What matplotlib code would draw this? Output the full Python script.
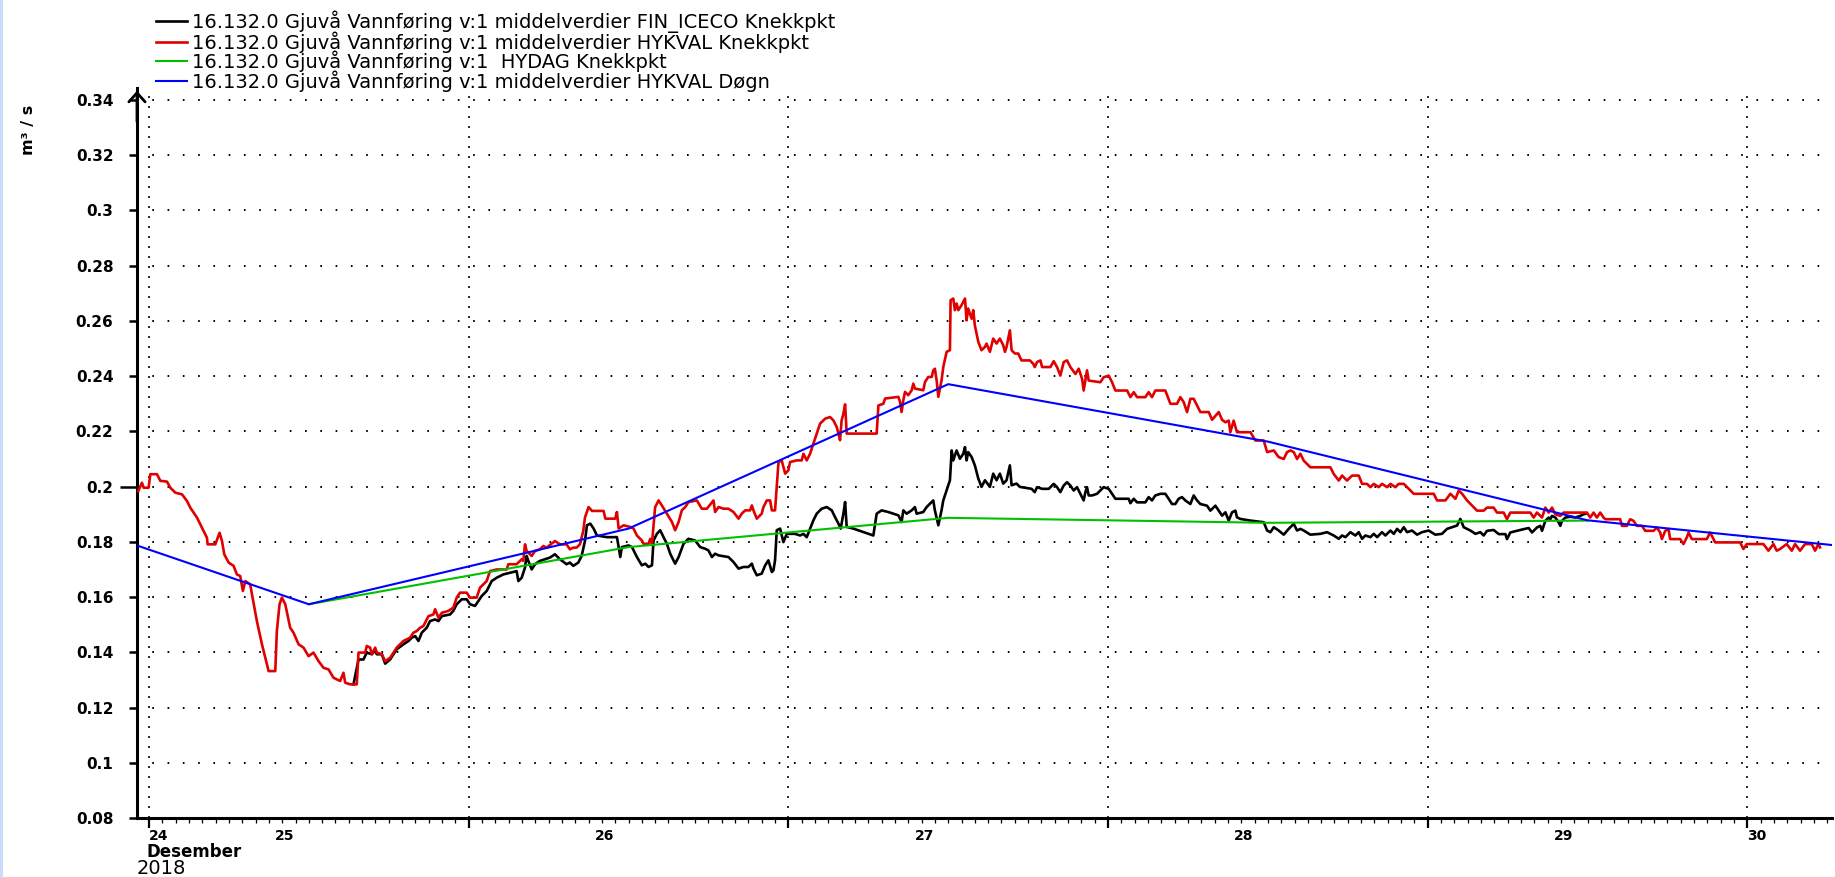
import numpy as np
import matplotlib
matplotlib.use('Agg')
import matplotlib.pyplot as plt
from matplotlib.patches import Rectangle

plt.rcParams['font.family'] = ['DejaVu Sans']
plt.rcParams['lines.scale_dashes'] = False

# ---------------- data (x = hours from first day boundary, y = m3/s) ----------------
red_hours = [
    -0.8, -0.53, -0.4, -0.03, 0.1, 0.6, 0.85, 1.35, 1.6, 1.98,
    2.48, 2.85, 3.1, 3.6, 4.1, 4.35, 4.4, 4.98, 5.3, 5.48,
    5.65, 5.98, 6.35, 6.6, 6.85, 7.05, 7.23, 7.6, 7.73, 8.1,
    8.48, 8.73, 8.98, 9.48, 9.6, 9.8, 9.98, 10.23, 10.6, 10.85,
    11.23, 11.6, 11.98, 12.35, 12.73, 13.1, 13.48, 13.85, 14.35, 14.6,
    14.73, 15.1, 15.6, 15.73, 16.23, 16.35, 16.6, 16.73, 16.98, 17.1,
    17.48, 17.73, 18.1, 18.6, 19.1, 19.6, 19.85, 20.1, 20.35, 20.6,
    20.98, 21.35, 21.48, 21.73, 21.98, 22.48, 22.85, 23.1, 23.35, 23.85,
    24.1, 24.6, 24.85, 25.35, 25.6, 26.1, 26.85, 26.98, 27.6, 27.98,
    28.1, 28.23, 28.35, 28.73, 28.98, 29.35, 29.6, 29.85, 30.48, 30.85,
    31.35, 31.6, 31.85, 32.1, 32.35, 32.6, 32.73,
    33.0, 33.26, 34.13, 34.26, 35.0, 35.13, 35.26, 35.63, 36.13, 36.38,
    36.63, 37.0, 37.13, 37.5, 37.63, 37.76, 38.0, 38.26, 38.5, 38.88,
    39.26, 39.5, 39.76, 40.0, 40.26, 40.5, 41.13, 41.5, 41.88, 42.38,
    42.5, 42.76, 43.13, 43.5, 43.88, 44.26, 44.5, 44.76, 45.13, 45.26,
    45.38, 45.63, 46.0, 46.13, 46.38, 46.63, 46.76, 47.0, 47.13, 47.26,
    47.5, 47.63, 47.76, 48.0, 48.13, 48.63, 49.0, 49.13, 49.38, 49.63,
    49.88, 50.13, 50.38, 50.76, 51.13, 51.38, 51.63, 51.76, 51.88, 52.0,
    52.13, 52.26, 52.38, 54.63, 54.76, 55.13, 55.26, 56.26, 56.38, 56.5,
    56.63, 56.76, 57.0, 57.26, 57.38, 57.5, 58.13, 58.26, 58.5, 58.76,
    58.88, 59.0, 59.13, 59.26, 59.5, 59.63, 59.88, 60.13, 60.18, 60.38,
    60.5, 60.63, 60.76, 61.0, 61.26, 61.38, 61.5, 61.76, 61.88, 62.0,
    62.26, 62.5, 62.76, 62.88, 63.13, 63.38, 63.63, 63.88, 64.13, 64.26,
    64.38, 64.63, 64.76, 65.0, 65.26, 65.5, 66.13, 66.38, 66.5,
    66.67, 66.92, 67.05, 67.67, 67.92, 68.17, 68.42, 68.67, 68.92, 69.17,
    69.55, 69.8, 70.05, 70.17, 70.42, 70.55, 71.42, 71.67, 72.05, 72.3,
    72.55, 73.43, 73.68, 73.93, 74.18, 74.8, 75.05, 75.3, 75.55, 76.3,
    76.68, 77.18, 77.43, 77.68, 77.93, 78.18, 78.43, 78.68, 78.93, 79.56,
    79.81, 80.31, 80.56, 80.81, 81.06, 81.18, 81.43, 81.68, 82.69, 83.06,
    83.69, 83.94, 84.44, 84.81, 85.19, 85.44, 85.69, 85.94, 86.19, 86.44,
    86.69, 87.19, 88.69, 88.94, 89.32, 89.57, 89.94, 90.32, 90.82, 91.07,
    91.44, 91.7, 91.95, 92.32, 92.57, 92.95, 93.2, 93.57, 93.82, 94.2,
    94.45, 94.95, 96.45, 96.7, 97.33, 97.7, 98.08, 98.33, 98.58, 98.95,
    99.45, 99.7, 100.2,
    100.45, 100.95, 101.2, 101.7, 101.95, 102.2, 103.7, 103.95, 104.2, 104.58,
    104.83, 105.08, 105.33, 105.58, 105.95, 106.2, 107.95, 108.2, 108.45, 108.7,
    108.95, 109.2, 109.33, 110.45, 110.58, 110.95, 111.2, 111.45, 111.7, 112.08,
    112.33, 112.95, 113.2, 113.45, 113.58, 113.83, 114.08, 114.2, 114.95, 115.2,
    115.45, 115.58, 115.83, 116.95, 117.2, 117.58, 119.45, 119.7, 119.95, 121.2,
    121.58, 121.95, 122.2, 122.45, 122.95, 123.33, 123.58, 123.95, 124.33, 124.83,
    125.08, 125.33, 125.45,
]
red_flow = [
    0.1984, 0.2014, 0.1996, 0.1996, 0.2045, 0.2045, 0.2021, 0.2018, 0.1996, 0.1978,
    0.1972, 0.1948, 0.1924, 0.1888, 0.1839, 0.1815, 0.1791, 0.1791, 0.1833, 0.1803,
    0.1755, 0.1725, 0.1713, 0.1682, 0.1676, 0.1622, 0.1658, 0.1646, 0.1610, 0.1513,
    0.1429, 0.1380, 0.1332, 0.1332, 0.1477, 0.1574, 0.1598, 0.1574, 0.1489, 0.1471,
    0.1429, 0.1417, 0.1386, 0.1399, 0.1368, 0.1344, 0.1338, 0.1308, 0.1296, 0.1326,
    0.1290, 0.1284, 0.1284, 0.1399, 0.1399, 0.1423, 0.1417, 0.1393, 0.1417, 0.1399,
    0.1393, 0.1368, 0.1380, 0.1417, 0.1441, 0.1453, 0.1471, 0.1477, 0.1489, 0.1495,
    0.1531, 0.1537, 0.1556, 0.1525, 0.1543, 0.1550, 0.1562, 0.1598, 0.1616, 0.1616,
    0.1598, 0.1598, 0.1634, 0.1658, 0.1694, 0.1700, 0.1700, 0.1719, 0.1719, 0.1737,
    0.1731, 0.1791, 0.1767, 0.1749, 0.1767, 0.1773, 0.1785, 0.1779, 0.1803, 0.1791,
    0.1791, 0.1773, 0.1779, 0.1779, 0.1791, 0.1839, 0.1888,
    0.1926, 0.1912, 0.1912, 0.1884, 0.1884, 0.1908, 0.1848, 0.1860, 0.1854, 0.1848,
    0.1823, 0.1805, 0.1793, 0.1793, 0.1811, 0.1793, 0.1926, 0.1950, 0.1932, 0.1902,
    0.1872, 0.1842, 0.1872, 0.1914, 0.1926, 0.1944, 0.1950, 0.1920, 0.1920, 0.1950,
    0.1908, 0.1926, 0.1920, 0.1920, 0.1908, 0.1884, 0.1902, 0.1914, 0.1914, 0.1932,
    0.1914, 0.1884, 0.1902, 0.1926, 0.1950, 0.1950, 0.1914, 0.1914, 0.1999, 0.2089,
    0.2095, 0.2071, 0.2047, 0.2059, 0.2089, 0.2095, 0.2095, 0.2119, 0.2095, 0.2119,
    0.2156, 0.2192, 0.2228, 0.2246, 0.2252, 0.2240, 0.2216, 0.2192, 0.2168, 0.2240,
    0.2264, 0.2298, 0.2192, 0.2192, 0.2294, 0.2300, 0.2319, 0.2325, 0.2307, 0.2270,
    0.2313, 0.2343, 0.2331, 0.2349, 0.2373, 0.2355, 0.2349, 0.2379, 0.2397, 0.2397,
    0.2421, 0.2427, 0.2385, 0.2325, 0.2385, 0.2433, 0.2488, 0.2494, 0.2675, 0.2681,
    0.2639, 0.2663, 0.2639, 0.2657, 0.2681, 0.2602, 0.2645, 0.2608, 0.2639, 0.2584,
    0.2524, 0.2494, 0.2506, 0.2518, 0.2488, 0.2536, 0.2518, 0.2536, 0.2512, 0.2488,
    0.2506, 0.2566, 0.2494, 0.2482, 0.2482, 0.2457, 0.2457, 0.2445, 0.2433,
    0.2451, 0.2457, 0.2433, 0.2433, 0.2454, 0.2433, 0.2402, 0.2451, 0.2457, 0.2433,
    0.2408, 0.2427, 0.2390, 0.2348, 0.2421, 0.2384, 0.2378, 0.2396, 0.2402, 0.2378,
    0.2348, 0.2348, 0.2324, 0.2342, 0.2324, 0.2324, 0.2342, 0.2324, 0.2348, 0.2348,
    0.2300, 0.2300, 0.2324, 0.2306, 0.2270, 0.2318, 0.2318, 0.2294, 0.2270, 0.2270,
    0.2242, 0.2270, 0.2242, 0.2233, 0.2239, 0.2197, 0.2239, 0.2197, 0.2197, 0.2167,
    0.2167, 0.2125, 0.2131, 0.2107, 0.2100, 0.2125, 0.2131, 0.2125, 0.2100, 0.2119,
    0.2094, 0.2070, 0.2070, 0.2046, 0.2022, 0.2040, 0.2022, 0.2040, 0.2040, 0.2010,
    0.2010, 0.1998, 0.2010, 0.1998, 0.2010, 0.1998, 0.2010, 0.1998, 0.2010, 0.2010,
    0.1998, 0.1974, 0.1974, 0.1950, 0.1950, 0.1974, 0.1956, 0.1986, 0.1974, 0.1950,
    0.1925, 0.1913, 0.1913,
    0.1924, 0.1924, 0.1906, 0.1906, 0.1882, 0.1906, 0.1906, 0.1888, 0.1906, 0.1888,
    0.1924, 0.1906, 0.1924, 0.1900, 0.1894, 0.1906, 0.1906, 0.1888, 0.1906, 0.1888,
    0.1906, 0.1888, 0.1882, 0.1882, 0.1858, 0.1858, 0.1882, 0.1876, 0.1858, 0.1858,
    0.1840, 0.1840, 0.1852, 0.1834, 0.1810, 0.1840, 0.1846, 0.1810, 0.1810, 0.1792,
    0.1816, 0.1834, 0.1810, 0.1810, 0.1834, 0.1798, 0.1798, 0.1774, 0.1792, 0.1792,
    0.1768, 0.1792, 0.1768, 0.1774, 0.1792, 0.1768, 0.1792, 0.1768, 0.1792, 0.1792,
    0.1768, 0.1792, 0.1780,
]

black_hours = [
    15.35, 15.73, 16.1, 16.35, 16.73, 16.98, 17.1, 17.48, 17.73, 18.1,
    18.6, 19.1, 19.48, 19.73, 19.98, 20.23, 20.48, 20.85, 21.1, 21.48,
    21.73, 21.98, 22.6, 22.85, 23.1, 23.48, 23.85, 24.1, 24.48, 24.73,
    24.98, 25.35, 25.73, 26.1, 26.6, 27.1, 27.6, 27.73, 27.98, 28.23,
    28.35, 28.48, 28.73, 28.98, 29.35, 29.73, 30.1, 30.48, 30.85, 31.35,
    31.6, 31.85, 32.23, 32.48, 32.73,
    32.88, 33.13, 33.38, 33.63, 34.38, 35.13, 35.26, 35.38, 35.5, 36.0,
    36.26, 36.63, 37.0, 37.26, 37.5, 37.76, 37.88, 38.13, 38.38, 38.63,
    38.88, 39.13, 39.5, 39.76, 40.13, 40.5, 41.0, 41.38, 41.76, 42.0,
    42.26, 42.5, 42.76, 43.5, 43.88, 44.26, 44.63, 45.0, 45.26, 45.38,
    45.63, 46.0, 46.26, 46.5, 46.76, 46.88, 47.0, 47.13, 47.38, 47.63,
    47.88, 48.5, 48.88, 49.13, 49.38, 49.63, 49.88, 50.13, 50.5, 50.88,
    51.26, 51.5, 51.76, 51.93, 52.13, 52.26, 52.38, 52.88, 54.38, 54.63,
    55.0, 55.5, 56.26, 56.5, 56.63, 56.88, 57.26, 57.5, 57.63, 58.13,
    58.38, 58.63, 58.88, 59.0, 59.26, 59.5, 59.63, 59.88, 60.13, 60.26,
    60.38, 60.63, 60.88, 61.13, 61.26, 61.38, 61.5, 61.76, 62.0, 62.26,
    62.5, 62.76, 63.13, 63.38, 63.63, 63.88, 64.13, 64.38, 64.63, 64.76,
    65.13, 65.38, 66.26, 66.5,
    66.67, 67.05, 67.55, 67.92, 68.17, 68.42, 68.67, 68.92, 69.17, 69.42,
    69.67, 69.92, 70.17, 70.3, 70.42, 70.55, 70.8, 71.17, 71.42, 71.67,
    72.05, 72.3, 72.55, 73.55, 73.68, 73.93, 74.18, 74.8, 75.05, 75.3,
    75.55, 75.93, 76.3, 76.55, 76.8, 77.05, 77.3, 77.55, 77.8, 78.18,
    78.43, 78.68, 78.93, 79.43, 79.68, 80.06, 80.31, 80.56, 80.81, 81.06,
    81.31, 81.56, 81.68, 81.93, 82.69, 83.69, 83.94, 84.19, 84.44, 84.81,
    85.19, 85.56, 85.94, 86.19, 86.44, 86.69, 87.19, 87.94, 88.44, 88.94,
    89.32, 89.57, 89.82, 90.19, 90.57, 90.82, 91.07, 91.32, 91.7, 91.95,
    92.2, 92.57, 92.82, 93.2, 93.45, 93.7, 93.95, 94.2, 94.45, 94.82,
    95.2, 95.57, 96.07, 96.57, 97.07, 97.45, 97.82, 98.2, 98.45, 98.7,
    99.2, 99.58, 99.95, 100.2,
    100.45, 100.95, 101.33, 101.83, 101.95, 102.2, 102.7, 103.2, 103.58, 103.83,
    104.2, 104.45, 104.58, 104.83, 105.08, 105.2, 105.33, 105.58, 105.83, 105.95,
    106.08, 106.33, 106.7, 107.08, 107.45, 107.7, 107.95,
]
black_flow = [
    0.1284, 0.1374, 0.1374, 0.1399, 0.1393, 0.1407, 0.1393, 0.1393, 0.1359, 0.1374,
    0.1411, 0.1429, 0.1441, 0.1453, 0.1459, 0.1441, 0.1471, 0.1489, 0.1513, 0.1519,
    0.1513, 0.1531, 0.1537, 0.1550, 0.1574, 0.1592, 0.1592, 0.1574, 0.1568, 0.1586,
    0.1604, 0.1622, 0.1658, 0.1670, 0.1682, 0.1688, 0.1694, 0.1658, 0.1670, 0.1707,
    0.1749, 0.1731, 0.1700, 0.1719, 0.1731, 0.1737, 0.1743, 0.1755, 0.1737, 0.1719,
    0.1725, 0.1713, 0.1725, 0.1749, 0.1803,
    0.1860, 0.1866, 0.1848, 0.1823, 0.1817, 0.1817, 0.1781, 0.1745, 0.1781, 0.1787,
    0.1781, 0.1745, 0.1715, 0.1721, 0.1709, 0.1715, 0.1805, 0.1829, 0.1842, 0.1817,
    0.1793, 0.1757, 0.1721, 0.1745, 0.1793, 0.1811, 0.1805, 0.1781, 0.1775, 0.1769,
    0.1745, 0.1757, 0.1751, 0.1745, 0.1727, 0.1703, 0.1709, 0.1709, 0.1721, 0.1703,
    0.1679, 0.1685, 0.1715, 0.1733, 0.1691, 0.1697, 0.1733, 0.1842, 0.1848, 0.1799,
    0.1829, 0.1829, 0.1823, 0.1829, 0.1817, 0.1848, 0.1878, 0.1902, 0.1920, 0.1926,
    0.1914, 0.1890, 0.1866, 0.1848, 0.1902, 0.1944, 0.1854, 0.1848, 0.1823, 0.1902,
    0.1914, 0.1908, 0.1896, 0.1872, 0.1914, 0.1902, 0.1914, 0.1926, 0.1902, 0.1908,
    0.1926, 0.1938, 0.1950, 0.1914, 0.1860, 0.1914, 0.1950, 0.1986, 0.2023, 0.2131,
    0.2095, 0.2131, 0.2101, 0.2119, 0.2143, 0.2095, 0.2125, 0.2107, 0.2077, 0.2029,
    0.1999, 0.2023, 0.1999, 0.2047, 0.2023, 0.2047, 0.2011, 0.2023, 0.2077, 0.2005,
    0.2011, 0.1999, 0.1992, 0.1980,
    0.1998, 0.1992, 0.1992, 0.2010, 0.1998, 0.1980, 0.2004, 0.2016, 0.2004, 0.1986,
    0.1998, 0.1974, 0.1950, 0.1980, 0.1998, 0.1968, 0.1968, 0.1974, 0.1986, 0.1998,
    0.1992, 0.1974, 0.1956, 0.1956, 0.1940, 0.1956, 0.1943, 0.1943, 0.1962, 0.1950,
    0.1968, 0.1974, 0.1974, 0.1956, 0.1937, 0.1937, 0.1956, 0.1962, 0.1950, 0.1937,
    0.1968, 0.1950, 0.1937, 0.1931, 0.1913, 0.1931, 0.1913, 0.1895, 0.1907, 0.1877,
    0.1907, 0.1913, 0.1889, 0.1883, 0.1877, 0.1871, 0.1841, 0.1835, 0.1853, 0.1841,
    0.1826, 0.1847, 0.1865, 0.1841, 0.1847, 0.1841, 0.1826, 0.1829, 0.1835, 0.1823,
    0.1811, 0.1823, 0.1817, 0.1835, 0.1823, 0.1835, 0.1811, 0.1823, 0.1817, 0.1829,
    0.1817, 0.1835, 0.1823, 0.1841, 0.1829, 0.1847, 0.1835, 0.1853, 0.1835, 0.1841,
    0.1826, 0.1835, 0.1841, 0.1826, 0.1829, 0.1847, 0.1853, 0.1859, 0.1883, 0.1853,
    0.1841, 0.1829, 0.1835, 0.1823,
    0.1840, 0.1843, 0.1828, 0.1828, 0.1810, 0.1834, 0.1840, 0.1846, 0.1850, 0.1834,
    0.1852, 0.1858, 0.1840, 0.1876, 0.1888, 0.1882, 0.1894, 0.1888, 0.1870, 0.1858,
    0.1876, 0.1888, 0.1891, 0.1888, 0.1894, 0.1900, 0.1903,
]

green_hours = [12, 36, 60, 84, 108]
green_flow = [0.1574, 0.1781, 0.1887, 0.1869, 0.1877]

blue_hours = [-12, 12, 36, 60, 84, 108, 132]
blue_flow = [0.1970, 0.1574, 0.1848, 0.2371, 0.2163, 0.1878, 0.1761]

series_labels = [
    "16.132.0 Gjuvå Vannføring v:1 middelverdier FIN_ICECO Knekkpkt",
    "16.132.0 Gjuvå Vannføring v:1 middelverdier HYKVAL Knekkpkt",
    "16.132.0 Gjuvå Vannføring v:1  HYDAG Knekkpkt",
    "16.132.0 Gjuvå Vannføring v:1 middelverdier HYKVAL Døgn",
]

y_ticks = [0.08, 0.10, 0.12, 0.14, 0.16, 0.18, 0.20, 0.22, 0.24, 0.26, 0.28, 0.30, 0.32, 0.34]
day_boundaries = [0, 24, 48, 72, 96, 120]
day_labels = ["24", "25", "26", "27", "28", "29", "30"]
day_label_hours = [0, 10.2, 34.2, 58.2, 82.2, 106.2, 120]
day_label_align = ["left", "center", "center", "center", "center", "center", "left"]
month_label = "Desember"
year_label = "2018"
unit_label = "m³ / s"

assert len(red_hours) == len(red_flow)
assert len(black_hours) == len(black_flow)

# ---------------- figure ----------------
W, H = 1835, 877
fig = plt.figure(figsize=(W / 100, H / 100), dpi=100)
fig.patch.set_facecolor('white')
fig.patches.append(Rectangle((0, 0), 3 / W, 1, transform=fig.transFigure,
                             facecolor='#c9dcfb', edgecolor='none'))

L, R, B, T = 137, 1832, 818, 88
ax = fig.add_axes([L / W, 1 - B / H, (R - L) / W, (B - T) / H])
ax.set_xlim(-0.9, 126.35)
ax.set_ylim(0.08, 0.08 + (B - T) / 2761.5)

l_black, = ax.plot(black_hours, black_flow, color='black', lw=1.9, zorder=3)
l_red, = ax.plot(red_hours, red_flow, color='#e00000', lw=1.9, zorder=3)
l_green, = ax.plot(green_hours, green_flow, color='#00c000', lw=1.5, zorder=4)
l_blue, = ax.plot(blue_hours, blue_flow, color='#0000ff', lw=1.5, zorder=5)

for s in ['top', 'right']:
    ax.spines[s].set_visible(False)
for s in ['left', 'bottom']:
    ax.spines[s].set_linewidth(2.2)
    ax.spines[s].set_color('black')

# x ticks
ax.set_xticks(day_boundaries)
ax.set_xticks(np.arange(0, 127, 1), minor=True)
ax.tick_params(axis='x', which='major', direction='out', length=7.5, width=1.6,
               labelbottom=False)
ax.tick_params(axis='x', which='minor', direction='out', length=3.6, width=0.9)

# y ticks
ax.set_yticks(y_ticks, [f"{v:g}" for v in y_ticks])
ax.tick_params(axis='y', which='major', direction='out', length=6, width=1.8,
               pad=11, labelsize=11)
for lab in ax.get_yticklabels():
    lab.set_fontweight('bold')
ax.yaxis.get_major_ticks()[6].tick1line.set_markersize(12)

# grids
ax.xaxis.grid(True, which='major', color='black', lw=1.2, linestyle=(0, (1.4, 5.8)))
ax.yaxis.grid(True, which='major', color='black', lw=1.4, linestyle=(0, (1.2, 9.8)))

# day labels
xt = ax.get_xaxis_transform()
for pos, lab, ha in zip(day_label_hours, day_labels, day_label_align):
    ax.annotate(lab, xy=(pos, 0), xycoords=xt, xytext=(0, -13), textcoords='offset points',
                ha=ha, va='center', fontsize=10, fontweight='bold', annotation_clip=False)
ax.annotate(month_label, xy=(-0.2, 0), xycoords=xt, xytext=(0, -24.5),
            textcoords='offset points', ha='left', va='center', fontsize=12,
            fontweight='bold', annotation_clip=False)
ax.annotate(year_label, xy=(0, 0), xycoords='axes fraction', xytext=(0, -36.5),
            textcoords='offset points', ha='left', va='center', fontsize=14,
            annotation_clip=False)

# y unit label
fig.text(28 / W, 1 - 130 / H, unit_label, rotation=90, ha='center', va='center',
         fontsize=11.5, fontweight='bold')

# axis arrow
ax.annotate('', xy=(0, 1.0), xycoords='axes fraction', xytext=(0, 0.95),
            arrowprops=dict(arrowstyle='->, head_length=0.5, head_width=0.45',
                            lw=2.0, color='black', mutation_scale=13),
            annotation_clip=False)

# legend
ax.legend(handles=[l_black, l_red, l_green, l_blue], labels=series_labels,
          loc='upper left', bbox_to_anchor=(156 / W, 1 - 10.5 / H),
          bbox_transform=fig.transFigure, frameon=False, fontsize=14,
          handlelength=1.6, handletextpad=0.25, labelspacing=-0.1,
          borderpad=0, borderaxespad=0)

fig.savefig('out.png', dpi=100)
